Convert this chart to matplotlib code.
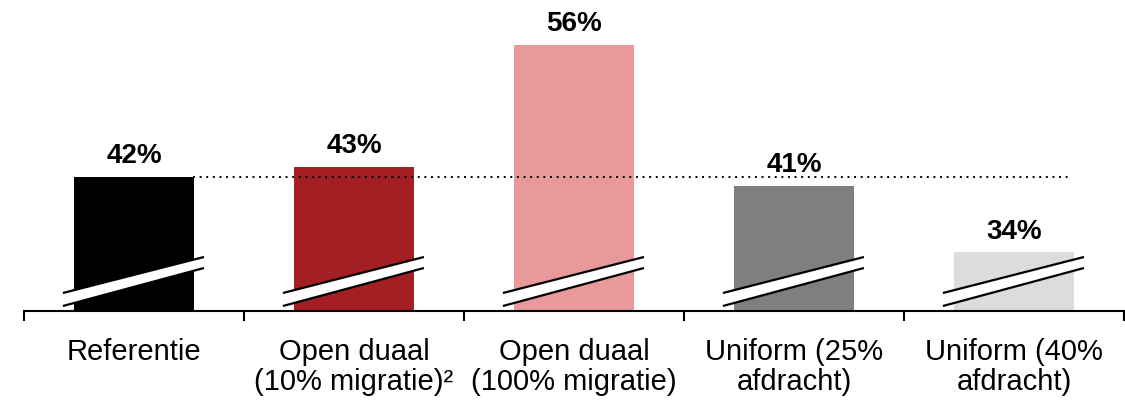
import numpy as np
import matplotlib.pyplot as plt
import matplotlib.transforms as mtransforms

plt.rcParams['font.family'] = ['Liberation Sans', 'DejaVu Sans']

categories = ['Referentie', 'Open duaal\n(10% migratie)\u00b2', 'Open duaal\n(100% migratie)',
              'Uniform (25%\nafdracht)', 'Uniform (40%\nafdracht)']
values = [42, 43, 56, 41, 34]
labels = ['42%', '43%', '56%', '41%', '34%']
colors = ['#000000', '#A41F23', '#E9999A', '#7F7F7F', '#DCDCDC']
ref_value = 42

fig = plt.figure(figsize=(11.25, 4.01), dpi=100)
ax = fig.add_axes([24 / 1125, 90 / 401, 1100 / 1125, 311 / 401])

y0 = 27.8
ax.set_ylim(y0, y0 + 311 / 9.45)
ax.set_xlim(-0.5, 4.5)

x = np.arange(len(values))
ax.bar(x, np.array(values) - y0, bottom=y0, width=0.545, color=colors, zorder=2)

# dotted reference line at the 42% level
ax.plot([0.27, 4.25], [ref_value, ref_value], color='black', lw=1.4,
        linestyle=(0, (1, 2.4)), zorder=3)

# value labels
for xi, v, lab in zip(x, values, labels):
    ax.annotate(lab, (xi, v), xytext=(0, 10), textcoords='offset points',
                ha='center', va='baseline', fontsize=20, fontweight='bold')


def val(px):
    # pixel height above the baseline -> data value
    return y0 + px / 9.45


# axis break marks
for xi in x:
    xl, xr = xi - 0.323, xi + 0.318
    ax.fill([xl, xr, xr, xl], [val(5), val(43), val(54), val(18)],
            color='white', zorder=4, lw=0)
    ax.plot([xl, xr], [val(5), val(43)], color='black', lw=1.6, zorder=5,
            solid_capstyle='butt')
    ax.plot([xl, xr], [val(18), val(54)], color='black', lw=1.6, zorder=5,
            solid_capstyle='butt')

for s in ['top', 'right', 'left']:
    ax.spines[s].set_visible(False)
ax.spines['bottom'].set_linewidth(1.5)
ax.set_yticks([])
ax.set_xticks(np.arange(-0.5, 5, 1))
ax.set_xticklabels([])
ax.tick_params(axis='x', length=7, width=1.5, direction='out')

# category labels
tr = mtransforms.blended_transform_factory(ax.transData, fig.transFigure)
for xi, c in zip(x, categories):
    ax.text(xi, 1 - 338 / 401, c, transform=tr, ha='center', va='top',
            fontsize=21, linespacing=1.1)

fig.savefig('out.png', dpi=100)
